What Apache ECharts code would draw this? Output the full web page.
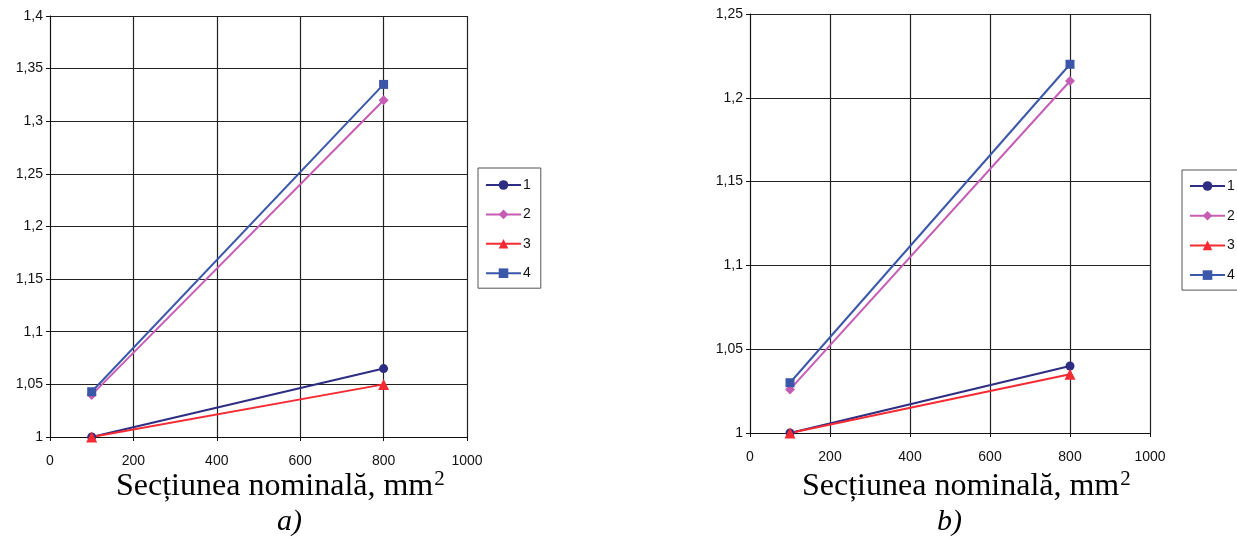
<!doctype html>
<html>
<head>
<meta charset="utf-8">
<title>sectiune</title>
<style>
  html,body{height:100%;padding:0;margin:0;background:#fff;}
</style>
</head>
<body>
<div id="chart" style="width:1237px;height:541px;"></div>
<script src="https://cdn.jsdelivr.net/npm/echarts@6/dist/echarts.min.js"></script>
<script>
// x values (sectiunea nominala, mm2)
var sections = [100, 800];
var names = ['1', '2', '3', '4'];

// panel a)
var a1 = [1.0, 1.065];
var a2 = [1.04, 1.32];
var a3 = [1.0, 1.05];
var a4 = [1.043, 1.335];

// panel b)
var b1 = [1.0, 1.04];
var b2 = [1.026, 1.21];
var b3 = [1.0, 1.035];
var b4 = [1.03, 1.22];

var colors = ['#2e2d84', '#c65db4', '#f52a33', '#3a57a9'];
var symbols = ['circle', 'diamond', 'triangle', 'rect'];
var symSizes = [9, 10, 11, 9];

function pairs(ys){
  return sections.map(function(x, i){ return [x, ys[i]]; });
}

function mkSeries(vals, gi){
  return vals.map(function(v, i){
    return {
      name: names[i],
      type: 'line',
      xAxisIndex: gi,
      yAxisIndex: gi,
      data: pairs(v),
      symbol: symbols[i],
      symbolSize: symSizes[i],
      clip: false,
      lineStyle: {width: 2, color: colors[i]},
      itemStyle: {color: colors[i]}
    };
  });
}

var tickFont = {fontFamily: 'Liberation Sans, Arial', fontSize: 14, color: '#111'};

function xAx(gi){
  return {
    type: 'value', gridIndex: gi, min: 0, max: 1000, interval: 200,
    axisLine: {show: true, lineStyle: {color: '#111', width: 1}},
    axisTick: {show: true, length: 4, lineStyle: {color: '#111'}},
    axisLabel: Object.assign({margin: 17, formatter: function(v){ return String(v); }}, tickFont),
    splitLine: {show: true, lineStyle: {color: '#222', width: 1.2}}
  };
}
function yAx(gi, max){
  return {
    type: 'value', gridIndex: gi, min: 1, max: max, interval: 0.05,
    axisLine: {show: true, lineStyle: {color: '#111', width: 1}},
    axisTick: {show: true, length: 4, lineStyle: {color: '#111'}},
    axisLabel: Object.assign({
      margin: 7,
      formatter: function(v){ return String(+v.toFixed(2)).replace('.', ','); }
    }, tickFont),
    splitLine: {show: true, lineStyle: {color: '#222', width: 1.2}}
  };
}

var serif = 'Liberation Serif, Times New Roman';
var richTitle = {
  m: {fontFamily: serif, fontSize: 32, fontWeight: 'normal', color: '#000', lineHeight: 36},
  s: {fontFamily: serif, fontSize: 21, fontWeight: 'normal', color: '#000', verticalAlign: 'top', lineHeight: 36, padding: [0, 0, 14, 1]}
};
var subStyle = {fontFamily: serif, fontSize: 30, fontStyle: 'italic', fontWeight: 'normal', color: '#000'};

function legendAt(left, top, padTop, gap){
  return {
    orient: 'vertical', left: left, top: top,
    data: names,
    itemWidth: 35, itemHeight: 12, itemGap: gap,
    padding: [padTop, 10, 8, 7],
    borderColor: '#555', borderWidth: 1,
    selectedMode: false,
    textStyle: {fontFamily: 'Liberation Sans, Arial', fontSize: 14, color: '#111', padding: [0, 0, 0, -3]}
  };
}

var chart = echarts.init(document.getElementById('chart'));
var option = {
  animation: false,
  backgroundColor: '#fff',
  title: [
    {text: '{m|Secțiunea nominală, mm}{s|2}', left: 116, top: 469, padding: 0, textStyle: {rich: richTitle}},
    {text: 'a)', left: 277, top: 507, padding: 0, textStyle: subStyle},
    {text: '{m|Secțiunea nominală, mm}{s|2}', left: 802, top: 469, padding: 0, textStyle: {rich: richTitle}},
    {text: 'b)', left: 937, top: 507, padding: 0, textStyle: subStyle}
  ],
  grid: [
    {left: 50, top: 16, width: 417, height: 421},
    {left: 750, top: 14, width: 400, height: 419}
  ],
  xAxis: [xAx(0), xAx(1)],
  yAxis: [yAx(0, 1.4), yAx(1, 1.25)],
  legend: [legendAt(478, 168, 10, 15.4), legendAt(1182, 170, 9, 15.7)],
  series: mkSeries([a1, a2, a3, a4], 0).concat(mkSeries([b1, b2, b3, b4], 1))
};
chart.setOption(option);
</script>
</body>
</html>
